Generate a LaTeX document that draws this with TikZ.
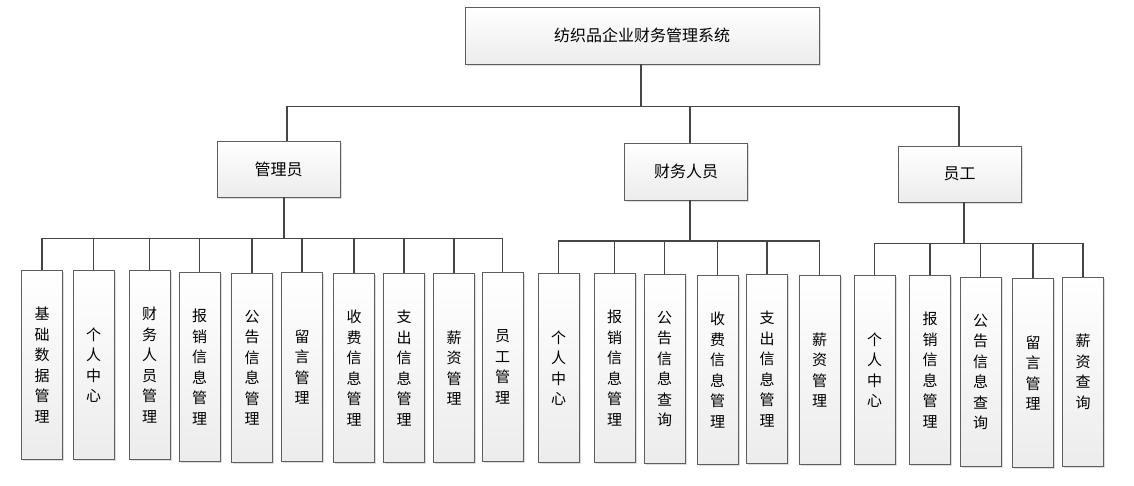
\documentclass[tikz,border=0pt]{standalone}
\usepackage{fontspec}
\newfontfamily\cjk{Noto Sans CJK SC}
\usetikzlibrary{shadows}
\definecolor{boxline}{HTML}{5E5E5E}
\definecolor{connline}{HTML}{454545}
\definecolor{boxbot}{HTML}{ECECEC}
\tikzset{
  base/.style={draw=boxline, line width=0.9pt, top color=white, bottom color=boxbot,
    drop shadow={shadow xshift=1.6pt, shadow yshift=-1.6pt, fill=black!22, opacity=0.6},
    inner sep=0pt, align=center},
  topbox/.style={base, minimum width=354pt, minimum height=57pt, font=\cjk\fontsize{16}{18}\selectfont},
  midbox/.style={base, minimum width=123pt, minimum height=56pt, font=\cjk\fontsize{16}{18}\selectfont},
  leaf/.style={base, anchor=north, minimum width=41pt, minimum height=189pt, font=\cjk\fontsize{15}{20.5}\selectfont},
  conn/.style={draw=connline, line width=1.4pt},
}
\begin{document}
\begin{tikzpicture}[x=1pt, y=-1pt]
\useasboundingbox (0,0) rectangle (1134,485);
% top
\node[topbox] (top) at (642,35.5) {纺织品企业财务管理系统};
% mid
\node[midbox] (m1) at (278.5,169) {管理员};
\node[midbox, minimum height=57pt] (m2) at (686,171.5) {财务人员};
\node[midbox] (m3) at (959.5,174) {员工};
% leaves admin
\node[leaf] (a1) at (42,270) {基\\础\\数\\据\\管\\理};
\node[leaf] (a2) at (93.5,270) {个\\人\\中\\心};
\node[leaf] (a3) at (149.5,270) {财\\务\\人\\员\\管\\理};
\node[leaf] (a4) at (199.5,272) {报\\销\\信\\息\\管\\理};
\node[leaf] (a5) at (252,273) {公\\告\\信\\息\\管\\理};
\node[leaf] (a6) at (302,272) {留\\言\\管\\理};
\node[leaf] (a7) at (354,273) {收\\费\\信\\息\\管\\理};
\node[leaf] (a8) at (404,273) {支\\出\\信\\息\\管\\理};
\node[leaf] (a9) at (454,273) {薪\\资\\管\\理};
\node[leaf] (a10) at (502.5,272) {员\\工\\管\\理};
% leaves finance
\node[leaf] (b1) at (558.5,273) {个\\人\\中\\心};
\node[leaf] (b2) at (614.5,273) {报\\销\\信\\息\\管\\理};
\node[leaf] (b3) at (664.5,274) {公\\告\\信\\息\\查\\询};
\node[leaf] (b4) at (717.5,275) {收\\费\\信\\息\\管\\理};
\node[leaf] (b5) at (767,274) {支\\出\\信\\息\\管\\理};
\node[leaf] (b6) at (819.5,275) {薪\\资\\管\\理};
% leaves staff
\node[leaf] (c1) at (874.5,275) {个\\人\\中\\心};
\node[leaf] (c2) at (930,275) {报\\销\\信\\息\\管\\理};
\node[leaf] (c3) at (980.5,277) {公\\告\\信\\息\\查\\询};
\node[leaf] (c4) at (1033,278) {留\\言\\管\\理};
\node[leaf] (c5) at (1083,277) {薪\\资\\查\\询};
% connectors level 1
\draw[conn] ([xshift=-1pt]top.south) -- ++(0,42) coordinate (j0);
\draw[conn] (j0) -| ([xshift=8.5pt]m1.north);
\draw[conn] (j0) -| ([xshift=4pt]m2.north);
\draw[conn] (j0) -| ([xshift=-0.5pt]m3.north);
% level 2
\draw[conn] ([xshift=5.5pt]m1.south) -- ++(0,41) coordinate (j1);
\foreach \n in {a1,a2,a3,a4,a5,a6,a7,a8,a9,a10} \draw[conn] (j1) -| (\n.north);
\draw[conn] ([xshift=4pt]m2.south) -- ++(0,40.5) coordinate (j2);
\foreach \n in {b1,b2,b3,b4,b5,b6} \draw[conn] (j2) -| (\n.north);
\draw[conn] ([xshift=4.5pt]m3.south) -- ++(0,41) coordinate (j3);
\foreach \n in {c1,c2,c3,c4,c5} \draw[conn] (j3) -| (\n.north);
\end{tikzpicture}
\end{document}
